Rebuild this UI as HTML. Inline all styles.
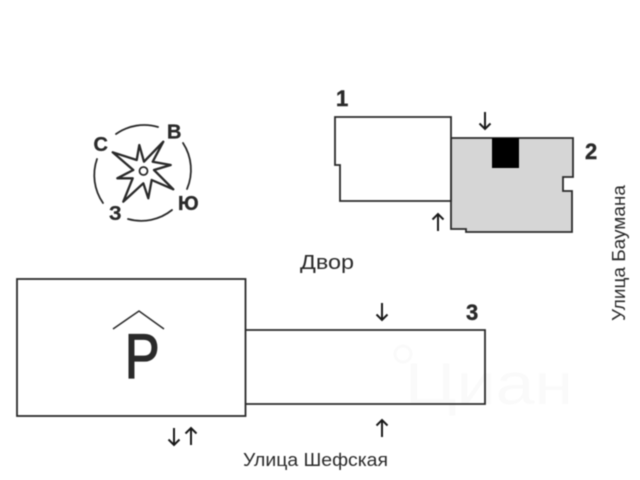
<!DOCTYPE html>
<html>
<head>
<meta charset="utf-8">
<style>
html,body{margin:0;padding:0;background:#fff;width:640px;height:480px;overflow:hidden}
svg{display:block;filter:blur(0.45px)}
text{font-family:"Liberation Sans","DejaVu Sans",sans-serif;fill:#2a2a2a}
</style>
</head>
<body>
<svg width="640" height="480" viewBox="0 0 640 480" xmlns="http://www.w3.org/2000/svg">
<!-- Watermark -->
<g opacity="0.02">
<circle cx="403" cy="354" r="8" fill="none" stroke="#000" stroke-width="3"/>
<text x="405" y="404" font-size="58" textLength="168" lengthAdjust="spacingAndGlyphs" style="fill:#000">Циан</text>
</g>
<!-- Building 2 -->
<path d="M451 138H573V177H563V191H572V232H466V229H451Z" fill="#d6d6d6" stroke="#2a2a2a" stroke-width="1.800"/>
<rect x="492" y="138" width="27" height="30" fill="#000"/>
<!-- Building 1 -->
<path d="M335 117H451V201H340V165H335Z" fill="#fff" stroke="#2a2a2a" stroke-width="1.800"/>
<!-- Parking and building 3 -->
<rect x="17" y="279" width="228.500" height="137" fill="none" stroke="#2a2a2a" stroke-width="1.800"/>
<path d="M245.500 330H485V404H245.500" fill="none" stroke="#2a2a2a" stroke-width="1.800"/>
<!-- P roof -->
<path d="M113 329L139 311L164 329" fill="none" stroke="#2a2a2a" stroke-width="1.500"/>
<text transform="translate(124.800 378) scale(.83 1)" font-size="63" stroke="#2a2a2a" stroke-width="1.300">P</text>
<!-- Compass arcs -->
<g fill="none" stroke="#2a2a2a" stroke-width="1.800" stroke-linecap="round">
<path d="M116 134A49 49 0 0 1 158 127"/>
<path d="M183 143A49 49 0 0 1 187 189"/>
<path d="M172 210A49 49 0 0 1 128 219"/>
<path d="M103 203A49 49 0 0 1 97 159"/>
</g>
<!-- Compass star -->
<path d="M163.300 141.700L152.700 161.700L170.700 165L154 170L173.300 189.300L151.700 180L148.300 198.300L143.300 183.300L123.300 201.700L132.700 178.300L117.300 178.300L133.300 170L112.700 152.300L136.700 160L139.300 145L144 161.700Z" fill="#fff" stroke="#2a2a2a" stroke-width="2.300" stroke-linejoin="round"/>
<circle cx="143.500" cy="171" r="4" fill="#fff" stroke="#2a2a2a" stroke-width="1.800"/>
<g font-weight="bold" font-size="20" stroke="#2a2a2a" stroke-width=".3">
<text x="93.500" y="151">С</text>
<text x="167" y="138.500">В</text>
<text x="178" y="210">Ю</text>
<text x="109" y="220">З</text>
</g>
<!-- Numbers -->
<g font-weight="bold" font-size="22" stroke="#2a2a2a" stroke-width=".4">
<text x="336" y="106">1</text>
<text x="585" y="159">2</text>
<text x="466" y="320">3</text>
</g>
<!-- Arrows -->
<g fill="none" stroke="#1a1a1a" stroke-width="2">
<path d="M485 112V129M479.500 123.500L485 129L490.500 123.500"/>
<path d="M438 231V214M432.500 219.500L438 214L443.500 219.500"/>
<path d="M382 303V320M376.500 314.500L382 320L387.500 314.500"/>
<path d="M382 437V420M376.500 425.500L382 420L387.500 425.500"/>
<path d="M174 428V445M168.500 439.500L174 445L179.500 439.500"/>
<path d="M191 445V428M185.500 433.500L191 428L196.500 433.500"/>
</g>
<!-- Labels -->
<text x="300" y="269" font-size="20" textLength="54" lengthAdjust="spacingAndGlyphs">Двор</text>
<text x="243" y="466" font-size="18" textLength="145" lengthAdjust="spacingAndGlyphs">Улица Шефская</text>
<text transform="translate(625 321) rotate(-90)" font-size="18" textLength="136" lengthAdjust="spacingAndGlyphs">Улица Баумана</text>
</svg>
</body>
</html>
